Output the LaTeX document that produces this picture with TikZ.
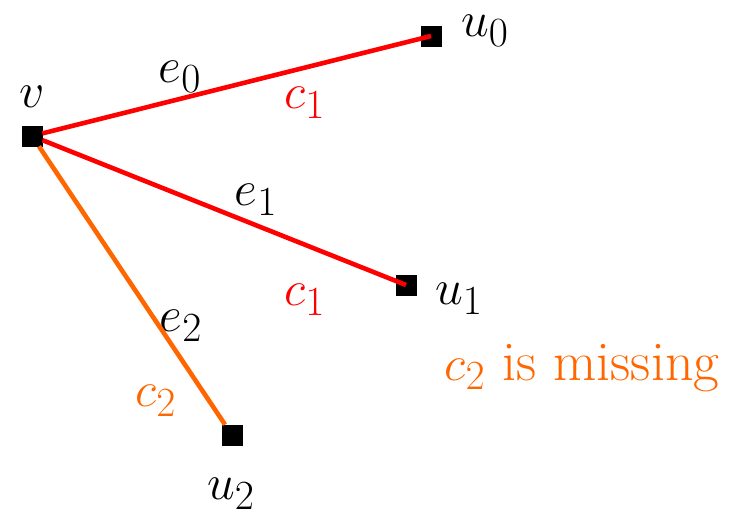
\documentclass[tikz,border=0pt]{standalone}
\usepackage{amsmath}
\usepackage{tikz}
\usetikzlibrary{positioning}

\definecolor{colred}{RGB}{255,0,0}
\definecolor{colorange}{RGB}{255,102,0}

\begin{document}
\begin{tikzpicture}[x=0.5pt, y=-0.5pt,
		vertexnode/.style={rectangle, fill=black, draw=black, inner sep=0pt, minimum size=10pt},
		labelnode/.style={inner sep=0pt, font=\fontsize{28}{32}\selectfont},
		rededge/.style={draw=colred, line width=2.3pt},
		orangeedge/.style={draw=colorange, line width=2.3pt},
		]
		\useasboundingbox (0,0) rectangle (738,520);
		% Nodes
		\node[vertexnode]                     (v)          at (32, 136)   {};
		\node[vertexnode]                     (u_0)        at (431, 36)   {};
		\node[vertexnode]                     (u_1)        at (406, 285)  {};
		\node[vertexnode]                     (u_2)        at (232, 435)  {};
		\node[labelnode]                      (v_label)    at (32, 97)    {$v$};
		\node[labelnode]                      (u_0_label)  at (485, 31)   {$u_0$};
		\node[labelnode]                      (u_1_label)  at (459, 299)  {$u_1$};
		\node[labelnode]                      (u_2_label)  at (231, 494)  {$u_2$};
		\node[labelnode]                      (e_0_label)  at (180, 77)   {$e_0$};
		\node[labelnode]                      (e_1_label)  at (256, 200)  {$e_1$};
		\node[labelnode]                      (e_2_label)  at (181, 326)  {$e_2$};
		\node[labelnode, text=colred]         (c_1_top)    at (305, 103)  {$c_1$};
		\node[labelnode, text=colred]         (c_1_low)    at (305, 300)  {$c_1$};
		\node[labelnode, text=colorange]      (c_2_label)  at (156, 401)  {$c_2$};
		\node[labelnode, text=colorange]      (missing)    at (582, 368)  {$c_2$ is missing};

		% Lines
		\draw[rededge]    (v) -- (u_0.center);
		\draw[rededge]    (v) -- (u_1.center);
		\draw[orangeedge] (v) -- (u_2);
\end{tikzpicture}
\end{document}
